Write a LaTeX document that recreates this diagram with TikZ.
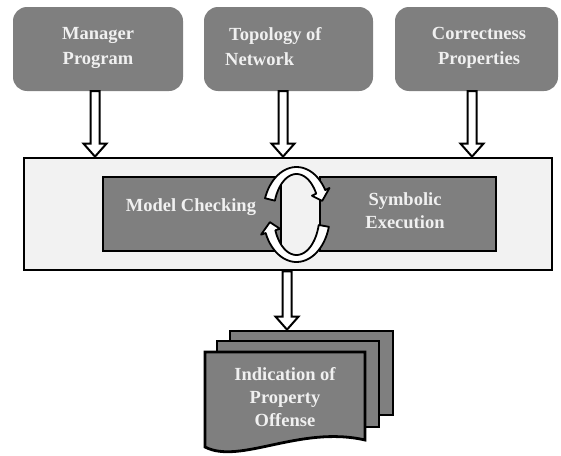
\documentclass[tikz,border=0pt]{standalone}
\usepackage{fontspec}
\setmainfont{Liberation Serif}
\usetikzlibrary{calc}
\definecolor{boxgray}{HTML}{7F7F7F}
\definecolor{bgpanel}{HTML}{F2F2F2}
\definecolor{txt}{HTML}{F0F0F0}
\tikzset{
  topbox/.style={fill=boxgray, draw=none, rounded corners=14pt, inner sep=0pt},
  panel/.style={draw=black, line width=2.8pt, fill=bgpanel, inner sep=0pt},
  gbox/.style={draw=black, line width=2.8pt, fill=boxgray, inner sep=0pt},
  page/.style={draw=black, line width=2.8pt, fill=boxgray, inner sep=0pt, line join=miter},
  lbl/.style={inner sep=0pt, text=txt, align=center, font=\bfseries\fontsize{18.5}{25}\selectfont},
  cyc/.style={draw=black, line width=1.8pt, fill=white, line join=round},
  hollow/.style={draw=black, line width=2pt, fill=white, line join=miter,
    to path={let \p1=(\tikztostart), \p2=(\tikztotarget) in
      (\x1-4.5pt,\y1) -- (\x1+4.5pt,\y1) -- (\x1+4.5pt,\y2+13pt) -- (\x1+11.5pt,\y2+13pt)
      -- (\x1,\y2) -- (\x1-11.5pt,\y2+13pt) -- (\x1-4.5pt,\y2+13pt) -- cycle}},
}
\begin{document}
\begin{tikzpicture}[x=1pt,y=-1pt]
\useasboundingbox (0,0) rectangle (561,455);

% top boxes
\node[topbox, minimum width=170pt, minimum height=84pt] (m1) at (98,49) {};
\node[topbox, minimum width=169pt, minimum height=84pt] (m2) at (288.5,49) {};
\node[topbox, minimum width=163pt, minimum height=84pt] (m3) at (476.5,49) {};
\node[lbl, anchor=north] (t1) at (98,27) {Manager\\Program};
\node[lbl, anchor=north west, align=left] (t2) at (225,27) {\hspace*{4pt}Topology of\\Network};
\node[lbl, anchor=north] (t3) at (479,27) {Correctness\\Properties};

% main panel
\node[panel, minimum width=528pt, minimum height=112pt] (main) at (288,214) {};
\node[gbox, minimum width=178pt, minimum height=74pt] (mc) at (192,214) {};
\node[gbox, minimum width=176pt, minimum height=74pt] (se) at (408,214) {};

% cycle arrows
\draw[cyc] plot[domain=160:31, samples=30] ({296.5+33.5*cos(\x)},{214.5-47.5*sin(\x)})
  -- ({296.5+38.5*cos(31)},{214.5-51.5*sin(31)})
  -- ({296.5+27*cos(18)},{214.5-44*sin(18)})
  -- ({296.5+18*cos(31)},{214.5-36.5*sin(31)})
  -- plot[domain=31:160, samples=30] ({296.5+23*cos(\x)},{214.5-40.5*sin(\x)})
  -- cycle;
\draw[cyc] plot[domain=-15:-157, samples=30] ({296.5+33.5*cos(\x)},{214.5-47.5*sin(\x)})
  -- ({296.5+38.5*cos(-157)},{214.5-51.5*sin(-157)})
  -- ({296.5+27*cos(-170)},{214.5-44*sin(-170)})
  -- ({296.5+18*cos(-157)},{214.5-36.5*sin(-157)})
  -- plot[domain=-157:-15, samples=30] ({296.5+23*cos(\x)},{214.5-40.5*sin(\x)})
  -- cycle;

\node[lbl, anchor=north] (t4) at (191,198) {Model Checking};
\node[lbl, anchor=north, font=\bfseries\fontsize{18.5}{23}\selectfont] (t5) at (405,192) {Symbolic\\Execution};

% document stack
\node[page, minimum width=163pt, minimum height=84pt] (back) at (311.5,373) {};
\node[page, minimum width=162pt, minimum height=86pt] (mid) at (298,384) {};
\draw[page] (205,352) -- (365,352) -- (365,440) .. controls (300,425) and (240,465) .. (205,447) -- cycle;
\node[lbl, anchor=north, font=\bfseries\fontsize{18.5}{23}\selectfont] (t6) at (285,367) {Indication of\\Property\\Offense};

% arrow end points
\coordinate (a1s) at ($(m1.south)+(-3,0)$);
\coordinate (a2s) at ($(m2.south)+(-5.5,0)$);
\coordinate (a3s) at ($(m3.south)+(-4.5,0)$);
\coordinate (a4s) at ($(main.south)+(-1,0)$);
\coordinate (a1e) at (a1s |- main.north);
\coordinate (a2e) at (a2s |- main.north);
\coordinate (a3e) at (a3s |- main.north);
\coordinate (a4e) at (a4s |- back.north);

% hollow arrows
\draw[hollow] (a1s) to (a1e);
\draw[hollow] (a2s) to (a2e);
\draw[hollow] (a3s) to (a3e);
\draw[hollow] (a4s) to (a4e);
\end{tikzpicture}
\end{document}
